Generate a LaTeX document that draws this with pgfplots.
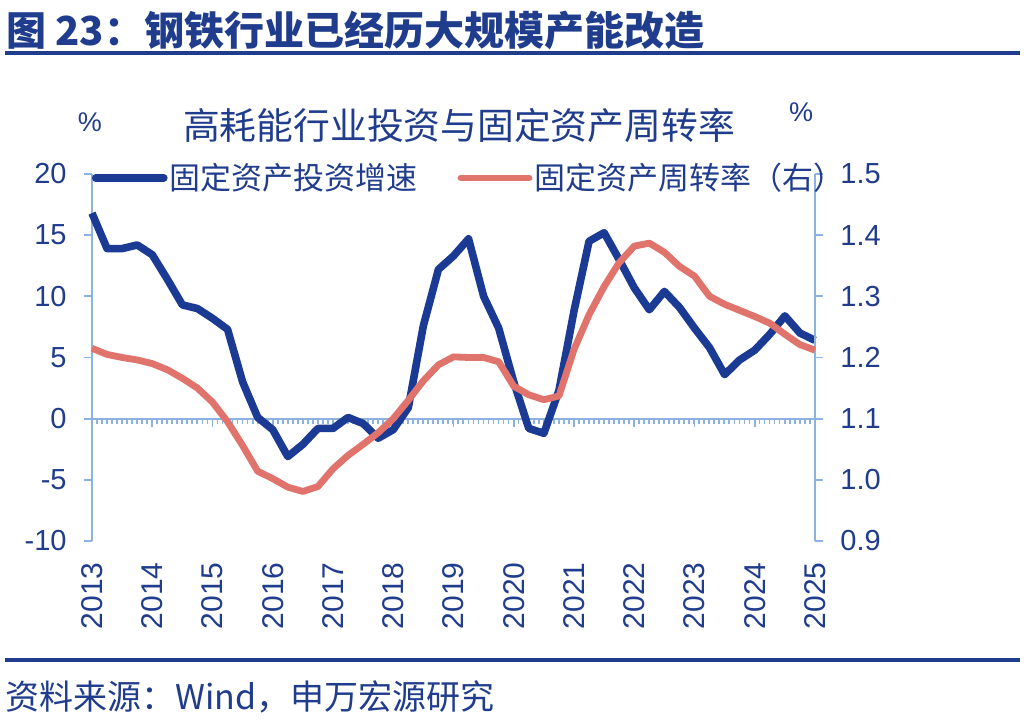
\documentclass[border=0pt]{standalone}
\usepackage{pgfplots}
\pgfplotsset{compat=1.18}
\usepackage{fontspec}
\setmainfont{Liberation Sans}
\newfontfamily\cjk{Noto Sans CJK SC}
\definecolor{tblue}{HTML}{203C8C}
\definecolor{lblue}{HTML}{1A3A94}
\definecolor{lred}{HTML}{E0736B}
\definecolor{axc}{HTML}{8DB2DF}
\begin{document}
\begin{tikzpicture}
\useasboundingbox (0,0) rectangle (512pt,363.5pt);
\fill[white] (0,0) rectangle (512pt,363.5pt);
\node[anchor=west, inner sep=0pt, text=tblue, font=\cjk\bfseries\fontsize{20}{20}\selectfont] at (3pt,348.5pt) {图 23：钢铁行业已经历大规模产能改造};
\draw[tblue, line width=1.8pt] (2.5pt,337pt) -- (510pt,337pt);
\node[inner sep=0pt, text=tblue, font=\cjk\fontsize{18.4}{18.4}\selectfont] at (229.5pt,300.5pt) {高耗能行业投资与固定资产周转率};
\node[inner sep=0pt, text=tblue, font=\fontsize{13.5}{13.5}\selectfont] at (45pt,302.5pt) {\%};
\node[inner sep=0pt, text=tblue, font=\fontsize{13.5}{13.5}\selectfont] at (400.5pt,307.5pt) {\%};
\draw[tblue, line width=1.6pt] (2.5pt,33.5pt) -- (510pt,33.5pt);
\node[anchor=west, inner sep=0pt, text=tblue, font=\cjk\fontsize{17}{17}\selectfont] at (2.5pt,15pt) {资料来源：Wind，申万宏源研究};

\begin{axis}[
  at={(46pt,93pt)}, anchor=south west, scale only axis,
  width=361.5pt, height=183.5pt,
  xmin=2013, xmax=2025, ymin=-10, ymax=20,
  axis y line*=left, axis x line*=middle,
  axis line style={-, axc, line width=0.9pt},
  xtick={2013,...,2025}, xticklabels={},
  minor xtick={2013,2013.0833333,...,2025},
  xtick align=center,
  major x tick style={yshift=-2pt},
  minor x tick style={yshift=-1.25pt},
  ytick={-10,-5,0,5,10,15,20}, ytick align=outside,
  tick style={axc, line width=0.9pt},
  major tick length=4pt, minor tick length=2.5pt,
  /pgf/number format/assume math mode=true,
  yticklabel style={font=\fontsize{14.5}{14.5}\selectfont, text=tblue, inner sep=0pt},
  yticklabel shift=8.5pt,
  clip=false,
]
\addplot[lblue, line width=3.8pt, line join=round] coordinates {
(2013.00,16.8) (2013.25,13.9) (2013.50,13.9) (2013.75,14.2) (2014.00,13.4)
(2014.25,11.4) (2014.50,9.3) (2014.75,9.0) (2015.00,8.2) (2015.25,7.3)
(2015.50,3.0) (2015.75,0.1) (2016.00,-0.9) (2016.25,-3.1) (2016.50,-2.1)
(2016.75,-0.8) (2017.00,-0.8) (2017.25,0.1) (2017.50,-0.4) (2017.75,-1.6)
(2018.00,-0.9) (2018.25,0.9) (2018.50,7.6) (2018.75,12.2) (2019.00,13.3)
(2019.25,14.7) (2019.50,10.0) (2019.75,7.4) (2020.00,3.0) (2020.25,-0.8)
(2020.50,-1.2) (2020.75,2.3) (2021.00,8.8) (2021.25,14.5) (2021.50,15.2)
(2021.75,13.0) (2022.00,10.7) (2022.25,8.9) (2022.50,10.4) (2022.75,9.1)
(2023.00,7.4) (2023.25,5.8) (2023.50,3.6) (2023.75,4.8) (2024.00,5.6)
(2024.25,6.9) (2024.50,8.4) (2024.75,7.0) (2025.00,6.4)
};
\end{axis}

\begin{axis}[
  at={(46pt,93pt)}, anchor=south west, scale only axis,
  width=361.5pt, height=183.5pt,
  xmin=2013, xmax=2025, ymin=0.9, ymax=1.5,
  axis y line*=right, axis x line*=bottom,
  axis line style={-, axc, line width=0.9pt},
  x axis line style={draw=none},
  xtick={2013,...,2025}, major x tick style={draw=none}, minor x tick num=0,
  xtick align=inside,
  ytick={0.9,1.0,1.1,1.2,1.3,1.4,1.5}, ytick align=outside,
  tick style={axc, line width=0.9pt},
  major tick length=4pt,
  /pgf/number format/assume math mode=true,
  xticklabel style={font=\fontsize{15}{15}\selectfont, text=tblue, rotate=90, anchor=east, inner sep=0pt, /pgf/number format/1000 sep={}},
  xticklabel shift=10.5pt,
  yticklabel style={font=\fontsize{14.5}{14.5}\selectfont, text=tblue, inner sep=0pt, /pgf/number format/.cd, fixed, fixed zerofill, precision=1},
  yticklabel shift=8.5pt,
  clip=false,
  legend style={at={(rel axis cs:0,1)}, anchor=west, xshift=0pt, yshift=-2pt,
    draw=none, fill=none, inner sep=0pt, outer sep=0pt,
    nodes={inner sep=0pt, text=tblue},
    font=\cjk\fontsize{15.5}{15.5}\selectfont,
    /tikz/every odd column/.append style={column sep=1pt},
    /tikz/every even column/.append style={column sep=20pt}},
  legend columns=2,
  legend image code/.code={\draw[#1, line cap=round] (0pt,0pt) -- (34pt,0pt);},
]
\addlegendimage{lblue, line width=3.8pt}
\addlegendentry{固定资产投资增速}
\addplot[lred, line width=3.4pt, line join=round] coordinates {
(2013.00,1.215) (2013.25,1.205) (2013.50,1.200) (2013.75,1.196) (2014.00,1.190)
(2014.25,1.180) (2014.50,1.166) (2014.75,1.150) (2015.00,1.127) (2015.25,1.095)
(2015.50,1.056) (2015.75,1.014) (2016.00,1.002) (2016.25,0.988) (2016.50,0.981)
(2016.75,0.989) (2017.00,1.018) (2017.25,1.040) (2017.50,1.058) (2017.75,1.077)
(2018.00,1.100) (2018.25,1.130) (2018.50,1.162) (2018.75,1.188) (2019.00,1.201)
(2019.25,1.200) (2019.50,1.200) (2019.75,1.193) (2020.00,1.153) (2020.25,1.139)
(2020.50,1.131) (2020.75,1.137) (2021.00,1.213) (2021.25,1.270) (2021.50,1.316)
(2021.75,1.355) (2022.00,1.382) (2022.25,1.387) (2022.50,1.372) (2022.75,1.349)
(2023.00,1.333) (2023.25,1.300) (2023.50,1.287) (2023.75,1.277) (2024.00,1.267)
(2024.25,1.256) (2024.50,1.238) (2024.75,1.221) (2025.00,1.212)
};
\addlegendentry{固定资产周转率（右）}
\end{axis}
\end{tikzpicture}
\end{document}
